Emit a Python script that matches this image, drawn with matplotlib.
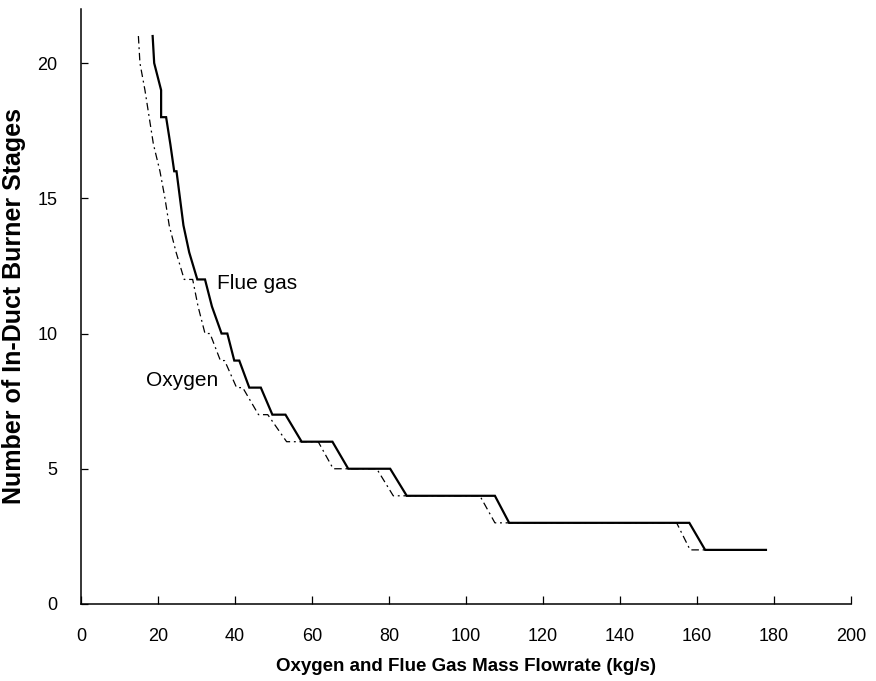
import matplotlib
matplotlib.use("Agg")
import matplotlib.pyplot as plt

plt.rcParams['font.family'] = ['Liberation Sans', 'DejaVu Sans']

# Flue gas: mass flowrate (kg/s) at the ends of each burner-stage plateau
flue_x = [18.6, 19.0, 20.8, 20.8, 22.1, 23.2, 24.2, 24.8, 25.7, 26.6, 28.1,
          30.2, 32.2, 34.0, 36.5, 38.0, 39.8, 41.1, 43.7, 46.7, 49.7, 53.1,
          57.3, 65.3, 69.4, 80.3, 84.6, 107.5, 111.2, 158.0, 162.1, 177.9]
flue_n = [21, 20, 19, 18, 18, 17, 16, 16, 15, 14, 13,
          12, 12, 11, 10, 10, 9, 9, 8, 8, 7, 7,
          6, 6, 5, 5, 4, 4, 3, 3, 2, 2]

# Oxygen: mass flowrate (kg/s) at the ends of each burner-stage plateau
oxy_x = [14.9, 15.3, 16.6, 17.7, 18.8, 20.5, 21.8, 22.9, 24.7, 26.8, 29.0,
         30.4, 32.2, 33.5, 36.2, 37.3, 40.4, 42.0, 46.1, 48.5, 53.4, 61.6,
         65.5, 76.8, 81.1, 103.6, 107.5, 154.7, 158.2, 173.8]
oxy_n = [21, 20, 19, 18, 17, 16, 15, 14, 13, 12, 12,
         11, 10, 10, 9, 9, 8, 8, 7, 7, 6, 6,
         5, 5, 4, 4, 3, 3, 2, 2]

x_ticks = [0, 20, 40, 60, 80, 100, 120, 140, 160, 180, 200]
y_ticks = [0, 5, 10, 15, 20]

fig = plt.figure(figsize=(8.76, 6.81), dpi=100)
ax = fig.add_axes([0.0925, 0.1131, 0.879, 0.8737])

ax.plot(oxy_x, oxy_n, color='black', lw=0.9, linestyle=(0, (6, 3, 1.5, 3)))
ax.plot(flue_x, flue_n, color='black', lw=1.6, solid_joinstyle='miter')

ax.set_xlim(0, 200)
ax.set_ylim(0, 22)
ax.set_xticks(x_ticks)
ax.set_yticks(y_ticks)

for side in ('top', 'right'):
    ax.spines[side].set_visible(False)
for side in ('left', 'bottom'):
    ax.spines[side].set_linewidth(1.1)

ax.tick_params(axis='x', direction='in', length=6, width=0.9, pad=17, labelsize=13)
ax.tick_params(axis='y', direction='in', length=5, width=0.9, pad=17, labelsize=13)

ax.text(35.3, 11.85, 'Flue gas', fontsize=15, va='center', ha='left')
ax.text(16.9, 8.26, 'Oxygen', fontsize=15, va='center', ha='left')

ax.set_xlabel('Oxygen and Flue Gas Mass Flowrate (kg/s)', fontsize=13.5,
              fontweight='bold', labelpad=9.5)
ax.set_ylabel('Number of In-Duct Burner Stages', fontsize=18,
              fontweight='bold')
ax.yaxis.label.set_va('center')
ax.yaxis.set_label_coords(-0.087, 0.501)

fig.savefig('out.png', dpi=100)
